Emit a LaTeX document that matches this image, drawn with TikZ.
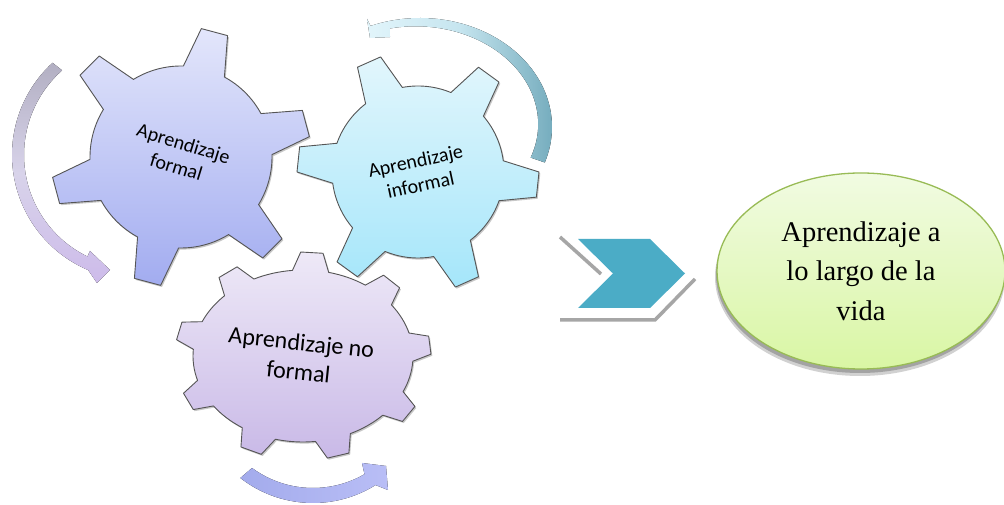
\documentclass[tikz,border=0pt]{standalone}
\usepackage{fontspec}
\setmainfont{Liberation Serif}
\newfontfamily\gearfont{Carlito}
\usetikzlibrary{shapes.geometric}
\definecolor{gearline}{HTML}{555555}
\definecolor{gAtop}{HTML}{E3E6FB}
\definecolor{gAbot}{HTML}{A2ACF0}
\definecolor{gBtop}{HTML}{E2F6FC}
\definecolor{gBbot}{HTML}{A5E6FA}
\definecolor{gCtop}{HTML}{EEE9F7}
\definecolor{gCbot}{HTML}{C9B9E7}
\definecolor{arrLtop}{HTML}{B2AFC2}
\definecolor{arrLmid}{HTML}{D8D3EA}
\definecolor{arrLbot}{HTML}{CDBBEA}
\definecolor{arrTl}{HTML}{E2F5FB}
\definecolor{arrTm}{HTML}{C6E5EF}
\definecolor{arrTr}{HTML}{76ADBE}
\definecolor{arrBl}{HTML}{A3ABEC}
\definecolor{arrBr}{HTML}{B9BEF6}
\definecolor{chevfill}{HTML}{4BACC6}
\definecolor{chevgray}{HTML}{A6A6A6}
\definecolor{lifeline}{HTML}{98BB55}
\definecolor{lifetop}{HTML}{F1FBE2}
\definecolor{lifebot}{HTML}{D9F6A4}
% #1 teeth, #2 offset, #3 #4 body radii, #5 #6 tip radii, #7 base half angle, #8 tip half angle
\newcommand\gearpath[8]{%
  ({#2-#7}:#3 and #4)
  \foreach \k in {1,...,#1}{
    -- ({#2+360/#1*(\k-1)-#7}:#3 and #4)
    -- ({#2+360/#1*(\k-1)-#8}:#5 and #6)
    -- ({#2+360/#1*(\k-1)+#8}:#5 and #6)
    -- ({#2+360/#1*(\k-1)+#7}:#3 and #4)
    arc[start angle={#2+360/#1*(\k-1)+#7}, end angle={#2+360/#1*\k-#7}, x radius=#3, y radius=#4]
  } -- cycle}
\tikzset{
  gearstyle/.style={draw=gearline, line width=0.9pt, line join=round},
  gearshadow/.style={fill=black, opacity=0.22},
  gtext/.style={font=\gearfont\fontsize{20}{24.4}\selectfont, align=center, inner sep=0pt, text=black},
  gtextbig/.style={font=\gearfont\fontsize{24}{29.3}\selectfont, align=center, inner sep=0pt, text=black},
  lifebox/.style={ellipse, draw=lifeline, line width=1.3pt, top color=lifetop, bottom color=lifebot,
    minimum width=288pt, minimum height=196pt, inner sep=0pt, align=center,
    font=\fontsize{28.5}{39.5}\selectfont},
  chevline/.style={draw=chevgray, line width=3.5pt, line cap=butt, line join=miter}
}
\begin{document}
\begin{tikzpicture}[x=1pt,y=1pt]
\useasboundingbox (0,0) rectangle (1004,505);
\fill[white] (0,0) rectangle (1004,505);

% ---- left curved arrow
\begin{scope}[shift={(137,350)}]
\fill[top color=arrLtop, bottom color=arrLbot, middle color=arrLmid]
  (132.5:125) arc[start angle=132.5, end angle=247, radius=125]
  -- (-40,-128) -- (-27,-115) -- (-47,-96)
  -- (244:113) arc[start angle=244, end angle=131.5, radius=113] -- cycle;
\end{scope}

% ---- top right curved arrow
\begin{scope}[shift={(420,378)}]
\fill[left color=arrTl, right color=arrTr, middle color=arrTm]
  plot[domain=-19:112, samples=60] ({132*cos(\x)},{109*sin(\x)})
  -- (-53,108) -- (-50,89) -- (-30,90)
  -- plot[domain=104:-19, samples=60] ({(132-(15-8*(\x+19)/131))*cos(\x)},{(109-(15-8*(\x+19)/131))*sin(\x)})
  -- cycle;
\end{scope}

% ---- bottom curved arrow
\begin{scope}[shift={(313,120)}]
\fill[left color=arrBl, right color=arrBr]
  (232:118) arc[start angle=232, end angle=302, radius=118]
  -- (75,-105) -- (73,-81) -- (49,-78)
  -- (300:103) arc[start angle=300, end angle=233.7, radius=103] -- cycle;
\end{scope}

% ---- gear 1 (formal)
\begin{scope}[shift={(181,348)}]
\path[gearshadow, shift={(1.3,-1.6)}] \gearpath{6}{15}{91}{91}{130}{130}{13.5}{6};
\path[gearstyle, top color=gAtop, bottom color=gAbot] \gearpath{6}{15}{91}{91}{130}{130}{13.5}{6};
\end{scope}

% ---- gear 2 (informal)
\begin{scope}[shift={(418,333)}]
\path[gearshadow, shift={(1.3,-1.6)}] \gearpath{6}{-6}{86}{86}{121}{121}{13.5}{6};
\path[gearstyle, top color=gBtop, bottom color=gBbot] \gearpath{6}{-6}{86}{86}{121}{121}{13.5}{6};
\end{scope}

% ---- gear 3 (no formal)
\begin{scope}[shift={(303,149)}]
\path[gearshadow, shift={(1.3,-1.6)}] \gearpath{9}{86}{110}{86}{128}{104}{9.5}{5};
\path[gearstyle, top color=gCtop, bottom color=gCbot] \gearpath{9}{86}{110}{86}{128}{104}{9.5}{5};
\end{scope}

\node[gtext, rotate=-17] (formal) at (180,350) {Aprendizaje\\formal};
\node[gtext, rotate=12] (informal) at (418,332) {Aprendizaje\\informal};
\node[gtextbig, rotate=-6] (noformal) at (300,148) {Aprendizaje no\\formal};

% ---- chevron
\draw[chevline] (560,268) -- (601,231);
\draw[chevline] (560,185) -- (655,185) -- (695,226);
\fill[chevfill] (578,266) -- (650,266) -- (685,231.5) -- (650,197) -- (578,197) -- (613,231.5) -- cycle;

% ---- life-long learning ellipse
\fill[black, opacity=0.18] (860,228) ellipse[x radius=145, y radius=99];
\fill[black, opacity=0.22] (860,230) ellipse[x radius=144, y radius=98];
\node[lifebox] (life) at (861,234) {Aprendizaje a\\lo largo de la\\vida};
\end{tikzpicture}
\end{document}
